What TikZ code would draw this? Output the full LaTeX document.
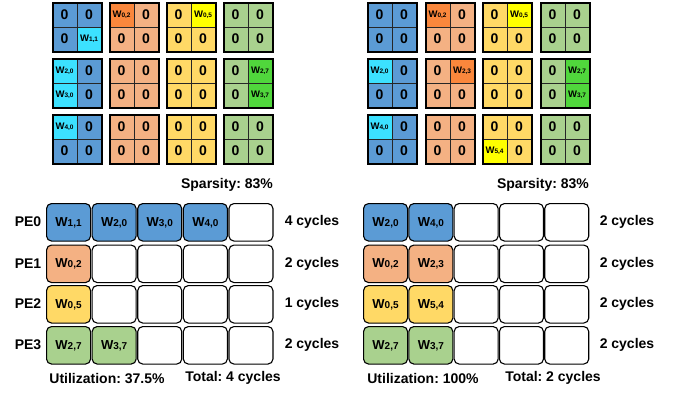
\documentclass[tikz,border=0pt]{standalone}
\usepackage{fontspec}
\setmainfont{Liberation Sans}
\frenchspacing
\definecolor{blb}{RGB}{91,155,213}
\definecolor{blh}{RGB}{60,225,255}
\definecolor{orb}{RGB}{244,177,131}
\definecolor{orh}{RGB}{250,135,60}
\definecolor{yeb}{RGB}{255,217,102}
\definecolor{yeh}{RGB}{255,255,0}
\definecolor{grb}{RGB}{169,209,142}
\definecolor{grh}{RGB}{80,215,60}
\newcommand{\Wm}[1]{{\fontsize{9.5}{10}\selectfont W}{\fontsize{6.5}{7}\selectfont #1}}
\newcommand{\Wb}[1]{{\fontsize{13}{14}\selectfont W}{\fontsize{10}{11}\selectfont #1}}
\def\zerotxt{0}
\newcommand{\mcell}[5]{%
  \def\tmpc{#5}%
  \ifx\tmpc\zerotxt
    \node[cell,fill=#4b,font=\fontsize{14}{14}\selectfont\bfseries] (#1) at (#2,#3) {0};
  \else
    \node[cell,fill=#4h] (#1) at (#2,#3) {#5};
  \fi}
\newcommand{\blk}[8]{%
  \mcell{#1a}{#2}{#3}{#4}{#5}
  \mcell{#1b}{#2+24.5}{#3}{#4}{#6}
  \mcell{#1c}{#2}{#3+24.5}{#4}{#7}
  \mcell{#1d}{#2+24.5}{#3+24.5}{#4}{#8}
  \node[blk] (#1) at (#2,#3) {};}
\newcommand{\pbox}[5]{\node[pebox,fill=#4] (#1) at (#2,#3) {#5};}
\begin{document}
\begin{tikzpicture}[x=1pt,y=-1pt,
  cell/.style={draw=black!85, line width=0.7pt, minimum width=24.5pt, minimum height=24.5pt,
    inner sep=0pt, anchor=north west, font=\bfseries},
  blk/.style={draw=black, line width=1.6pt, minimum width=49pt, minimum height=49pt,
    inner sep=0pt, anchor=north west},
  pebox/.style={draw=black, line width=1.1pt, rounded corners=5pt, minimum width=44pt,
    minimum height=37.5pt, inner sep=0pt, anchor=north west, font=\bfseries},
  lbl/.style={font=\fontsize{14}{15}\selectfont\bfseries, inner sep=0pt}]
\useasboundingbox (0,0) rectangle (681,392);

% ---------- left matrices ----------
\blk{LA}{52}{2}{bl}{0}{0}{0}{\Wm{1,1}}
\blk{LB}{109}{2}{or}{\Wm{0,2}}{0}{0}{0}
\blk{LC}{166}{2}{ye}{0}{\Wm{0,5}}{0}{0}
\blk{LD}{223}{2}{gr}{0}{0}{0}{0}
\blk{LE}{52}{58}{bl}{\Wm{2,0}}{0}{\Wm{3,0}}{0}
\blk{LF}{109}{58}{or}{0}{0}{0}{0}
\blk{LG}{166}{58}{ye}{0}{0}{0}{0}
\blk{LH}{223}{58}{gr}{0}{\Wm{2,7}}{0}{\Wm{3,7}}
\blk{LI}{52}{114}{bl}{\Wm{4,0}}{0}{0}{0}
\blk{LJ}{109}{114}{or}{0}{0}{0}{0}
\blk{LK}{166}{114}{ye}{0}{0}{0}{0}
\blk{LL}{223}{114}{gr}{0}{0}{0}{0}

% ---------- right matrices ----------
\blk{RA}{367}{2}{bl}{0}{0}{0}{0}
\blk{RB}{425}{2}{or}{\Wm{0,2}}{0}{0}{0}
\blk{RC}{482}{2}{ye}{0}{\Wm{0,5}}{0}{0}
\blk{RD}{540}{2}{gr}{0}{0}{0}{0}
\blk{RE}{367}{58}{bl}{\Wm{2,0}}{0}{0}{0}
\blk{RF}{425}{58}{or}{0}{\Wm{2,3}}{0}{0}
\blk{RG}{482}{58}{ye}{0}{0}{0}{0}
\blk{RH}{540}{58}{gr}{0}{\Wm{2,7}}{0}{\Wm{3,7}}
\blk{RI}{367}{114}{bl}{\Wm{4,0}}{0}{0}{0}
\blk{RJ}{425}{114}{or}{0}{0}{0}{0}
\blk{RK}{482}{114}{ye}{0}{0}{\Wm{5,4}}{0}
\blk{RL}{540}{114}{gr}{0}{0}{0}{0}

\node[lbl] (spL) at (227,185) {Sparsity: 83\%};
\node[lbl] (spR) at (543,185) {Sparsity: 83\%};

% ---------- left PE table ----------
\pbox{La0}{46}{203}{blb}{\Wb{1,1}}
\pbox{La1}{91.6}{203}{blb}{\Wb{2,0}}
\pbox{La2}{137.2}{203}{blb}{\Wb{3,0}}
\pbox{La3}{182.8}{203}{blb}{\Wb{4,0}}
\pbox{La4}{228.4}{203}{white}{}
\pbox{Lb0}{46}{244.5}{orb}{\Wb{0,2}}
\pbox{Lc0}{46}{285}{yeb}{\Wb{0,5}}
\pbox{Ld0}{46}{326}{grb}{\Wb{2,7}}
\pbox{Ld1}{91.6}{326}{grb}{\Wb{3,7}}
\foreach \k in {1,...,4} {
  \pbox{Lb\k}{46+45.6*\k}{244.5}{white}{}
  \pbox{Lc\k}{46+45.6*\k}{285}{white}{}
}
\foreach \k in {2,...,4} {\pbox{Ld\k}{46+45.6*\k}{326}{white}{}}

\node[lbl] (pe0) at (28,222) {PE0};
\node[lbl] (pe1) at (28,263.5) {PE1};
\node[lbl] (pe2) at (28,304) {PE2};
\node[lbl] (pe3) at (28,345) {PE3};
\node[lbl] (cyL0) at (312,222) {4 cycles};
\node[lbl] (cyL1) at (312,263.5) {2 cycles};
\node[lbl] (cyL2) at (312,304) {1 cycles};
\node[lbl] (cyL3) at (312,345) {2 cycles};
\node[lbl] (utL) at (107,378) {Utilization: 37.5\%};
\node[lbl] (toL) at (233,378) {Total: 4 cycles};

% ---------- right PE table ----------
\pbox{Ra0}{363}{203}{blb}{\Wb{2,0}}
\pbox{Ra1}{408.3}{203}{blb}{\Wb{4,0}}
\pbox{Rb0}{363}{244.5}{orb}{\Wb{0,2}}
\pbox{Rb1}{408.3}{244.5}{orb}{\Wb{2,3}}
\pbox{Rc0}{363}{285}{yeb}{\Wb{0,5}}
\pbox{Rc1}{408.3}{285}{yeb}{\Wb{5,4}}
\pbox{Rd0}{363}{326}{grb}{\Wb{2,7}}
\pbox{Rd1}{408.3}{326}{grb}{\Wb{3,7}}
\foreach \k in {2,...,4} {
  \pbox{Ra\k}{363+45.3*\k}{203}{white}{}
  \pbox{Rb\k}{363+45.3*\k}{244.5}{white}{}
  \pbox{Rc\k}{363+45.3*\k}{285}{white}{}
  \pbox{Rd\k}{363+45.3*\k}{326}{white}{}
}
\node[lbl] (cyR0) at (627,222) {2 cycles};
\node[lbl] (cyR1) at (627,263.5) {2 cycles};
\node[lbl] (cyR2) at (627,304) {2 cycles};
\node[lbl] (cyR3) at (627,345) {2 cycles};
\node[lbl] (utR) at (423,378) {Utilization: 100\%};
\node[lbl] (toR) at (553,378) {Total: 2 cycles};
\end{tikzpicture}
\end{document}
